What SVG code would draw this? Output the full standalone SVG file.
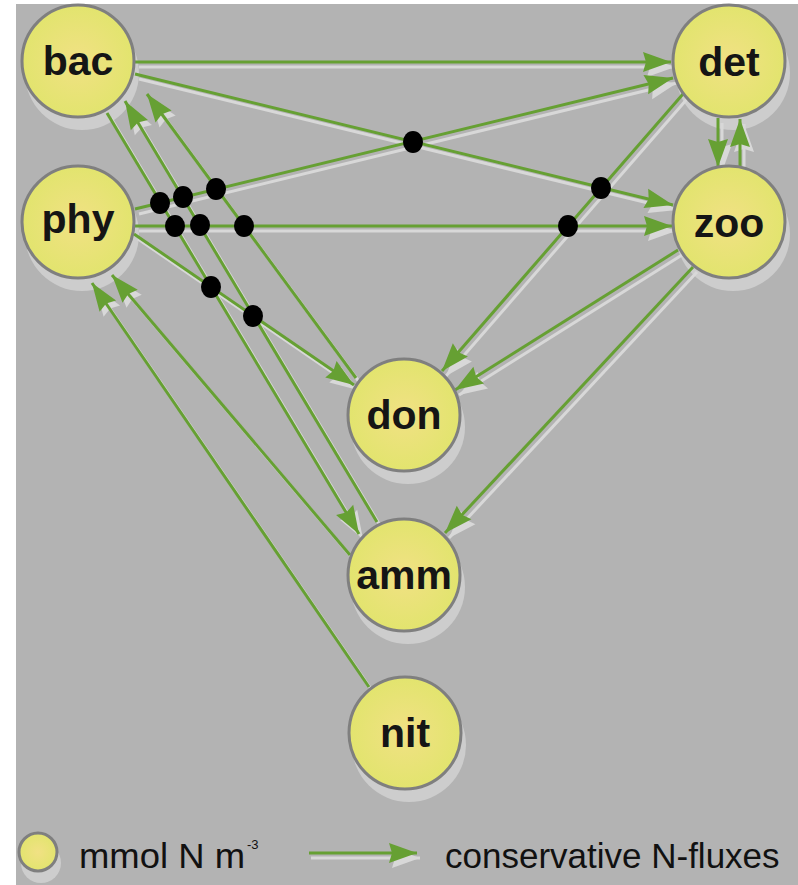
<svg xmlns="http://www.w3.org/2000/svg" width="798" height="885" viewBox="0 0 798 885">
  <defs>
    <radialGradient id="pool" cx="0.5" cy="0.5" r="0.5">
      <stop offset="0" stop-color="#f1e184"/>
      <stop offset="1" stop-color="#e2e46e"/>
    </radialGradient>
    <marker id="head" markerUnits="userSpaceOnUse" markerWidth="30" markerHeight="22" refX="28" refY="10" orient="auto" overflow="visible">
      <path d="M0,0 L28,10 L0,20 L3,10 Z" fill="#66a033"/>
    </marker>
    <marker id="head-shadow" markerUnits="userSpaceOnUse" markerWidth="30" markerHeight="22" refX="28" refY="10" orient="auto" overflow="visible">
      <path d="M0,0 L28,10 L0,20 L3,10 Z" fill="#d8d8d8"/>
    </marker>
    <style>
      .flux { fill: none; stroke: #66a033; stroke-width: 3; marker-end: url(#head); }
      .flux-shadow { fill: none; stroke: #d8d8d8; stroke-width: 3; marker-end: url(#head-shadow); }
      .pool { fill: url(#pool); stroke: #7f7f7f; stroke-width: 3; }
      .pool-shadow { fill: #cdcdcd; }
      .jump { fill: #000; }
      .label { font-family: "Liberation Sans", Arial, sans-serif; font-weight: bold; font-size: 41px; fill: #151515; text-anchor: middle; }
      .legend { font-family: "Liberation Sans", Arial, sans-serif; font-size: 35px; fill: #111; }
      .legend.sup { font-size: 13px; }
    </style>
  </defs>

  <!-- canvas -->
  <rect x="0" y="0" width="798" height="885" fill="#ffffff"/>
  <rect x="16" y="4" width="782" height="881" fill="#b3b3b3"/>

  <!-- drop shadows of the pools, kept under the fluxes -->
  <g id="pool-shadows">
    <circle class="pool-shadow" cx="82" cy="73" r="57"/>
    <circle class="pool-shadow" cx="82" cy="234" r="57"/>
    <circle class="pool-shadow" cx="733" cy="73" r="57"/>
    <circle class="pool-shadow" cx="733" cy="234" r="57"/>
    <circle class="pool-shadow" cx="408" cy="427" r="57"/>
    <circle class="pool-shadow" cx="408" cy="587" r="57"/>
    <circle class="pool-shadow" cx="409" cy="745" r="57"/>
    <circle class="pool-shadow" cx="41" cy="863" r="20"/>
  </g>

  <!-- fluxes -->
  <g id="connectors">
    <g id="connector-shadows" transform="translate(4,5)">
      <path class="flux-shadow" d="M135,62 H671"/>
      <path class="flux-shadow" d="M135,74 L673,205"/>
      <path class="flux-shadow" d="M135,209 L673,78"/>
      <path class="flux-shadow" d="M135,226 H672"/>
      <path class="flux-shadow" d="M134,234 L354,385"/>
      <path class="flux-shadow" d="M683,94 L442,371"/>
      <path class="flux-shadow" d="M678,250 L455,390"/>
      <path class="flux-shadow" d="M693,267 L445,533"/>
      <path class="flux-shadow" d="M718,118 V167"/>
      <path class="flux-shadow" d="M740,167 V119"/>
      <path class="flux-shadow" d="M356,378 L147,94"/>
      <path class="flux-shadow" d="M377,522 L125,101"/>
      <path class="flux-shadow" d="M107,113 L359,534"/>
      <path class="flux-shadow" d="M350,555 L112,275"/>
      <path class="flux-shadow" d="M369,687 L92,283"/>
    </g>
    <path id="bac-det" class="flux" d="M135,62 H671"/>
    <path id="bac-zoo" class="flux" d="M135,74 L673,205"/>
    <path id="phy-det" class="flux" d="M135,209 L673,78"/>
    <path id="phy-zoo" class="flux" d="M135,226 H672"/>
    <path id="phy-don" class="flux" d="M134,234 L354,385"/>
    <path id="det-don" class="flux" d="M683,94 L442,371"/>
    <path id="zoo-don" class="flux" d="M678,250 L455,390"/>
    <path id="zoo-amm" class="flux" d="M693,267 L445,533"/>
    <path id="det-zoo" class="flux" d="M718,118 V167"/>
    <path id="zoo-det" class="flux" d="M740,167 V119"/>
    <path id="don-bac" class="flux" d="M356,378 L147,94"/>
    <path id="amm-bac" class="flux" d="M377,522 L125,101"/>
    <path id="bac-amm" class="flux" d="M107,113 L359,534"/>
    <path id="amm-phy" class="flux" d="M350,555 L112,275"/>
    <path id="nit-phy" class="flux" d="M369,687 L92,283"/>

    <!-- crossing markers -->
    <g id="crossings">
      <ellipse class="jump" cx="413" cy="142" rx="10" ry="11"/>
      <ellipse class="jump" cx="601" cy="188" rx="10" ry="11"/>
      <ellipse class="jump" cx="568" cy="226" rx="10" ry="11"/>
      <ellipse class="jump" cx="160" cy="203" rx="10" ry="11"/>
      <ellipse class="jump" cx="183" cy="197" rx="10" ry="11"/>
      <ellipse class="jump" cx="216" cy="189" rx="10" ry="11"/>
      <ellipse class="jump" cx="175" cy="226" rx="10" ry="11"/>
      <ellipse class="jump" cx="200" cy="225" rx="10" ry="11"/>
      <ellipse class="jump" cx="244" cy="226" rx="10" ry="11"/>
      <ellipse class="jump" cx="211" cy="287" rx="10" ry="11"/>
      <ellipse class="jump" cx="253" cy="316" rx="10" ry="11"/>
    </g>
  </g>

  <!-- pools -->
  <g id="bac">
    <circle class="pool" cx="78" cy="61" r="56"/>
    <text class="label" x="78" y="75">bac</text>
  </g>
  <g id="phy">
    <circle class="pool" cx="78" cy="222" r="56"/>
    <text class="label" x="78" y="233">phy</text>
  </g>
  <g id="det">
    <circle class="pool" cx="729" cy="61" r="56"/>
    <text class="label" x="729" y="76">det</text>
  </g>
  <g id="zoo">
    <circle class="pool" cx="729" cy="222" r="56"/>
    <text class="label" x="729" y="237">zoo</text>
  </g>
  <g id="don">
    <circle class="pool" cx="404" cy="415" r="56"/>
    <text class="label" x="404" y="429">don</text>
  </g>
  <g id="amm">
    <circle class="pool" cx="404" cy="575" r="56"/>
    <text class="label" x="404" y="589">amm</text>
  </g>
  <g id="nit">
    <circle class="pool" cx="405" cy="733" r="56"/>
    <text class="label" x="405" y="747">nit</text>
  </g>

  <!-- legend -->
  <g id="legend">
    <circle class="pool" cx="38" cy="852" r="19"/>
    <text class="legend" x="79" y="868" textLength="166" lengthAdjust="spacingAndGlyphs">mmol N m</text>
    <text class="legend sup" x="247" y="849">-3</text>
    <path class="flux-shadow" d="M311,858 H420"/>
    <path class="flux" d="M309,853 H417"/>
    <text class="legend" x="445" y="868">conservative N-fluxes</text>
  </g>
</svg>
